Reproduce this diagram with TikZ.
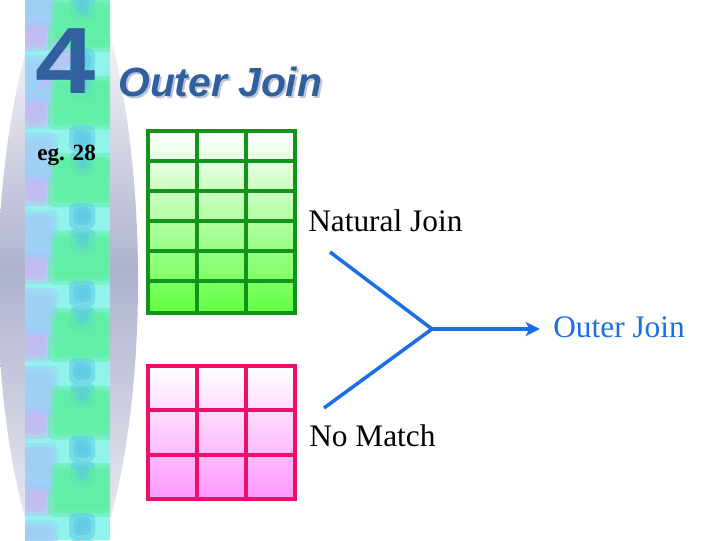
\documentclass[tikz,border=0pt]{standalone}
\usepackage{fontspec}
\setmainfont{Liberation Serif}
\newfontfamily\titlefont{Liberation Sans}
\usetikzlibrary{arrows.meta}

\definecolor{stripcyan}{HTML}{90F4EC}
\definecolor{stripblue}{HTML}{A2CCF8}
\definecolor{striplav}{HTML}{C8B6F2}
\definecolor{stripgreen}{HTML}{5EEEA0}
\definecolor{stripteal}{HTML}{5CC6E6}
\definecolor{lensgray}{HTML}{AEB2CE}
\definecolor{titleblue}{HTML}{30609E}
\definecolor{titleshade}{HTML}{BCC6DA}
\definecolor{gridgreen}{HTML}{12941A}
\definecolor{fillgreen}{HTML}{62FF42}
\definecolor{gridpink}{HTML}{EC1068}
\definecolor{fillpink}{HTML}{FF98FF}
\definecolor{joinblue}{HTML}{1C6EE6}

\begin{document}
\begin{tikzpicture}[x=0.025cm, y=-0.025cm, >={Stealth[length=10pt, width=10pt, inset=2.5pt]}]
  \tikzset{
    bigtext/.style={inner sep=0pt, anchor=base west, font=\fontsize{22.3}{26}\selectfont},
    halo/.style={rounded corners=4pt, opacity=0.5},
    greenline/.style={draw=gridgreen, line width=2.9pt},
    pinkline/.style={draw=gridpink, line width=2.9pt},
    joinline/.style={draw=joinblue, line width=2.5pt}
  }
  \useasboundingbox (0,0) rectangle (720,540);
  % grey lens behind the strip
  \shade[top color=white, bottom color=white!75!lensgray, middle color=lensgray]
    (42,0) .. controls (-15,150) and (-15,400) .. (32,540) -- (104,540)
    .. controls (150,400) and (150,150) .. (100,0) -- cycle;
  % coloured strip, soft blobs drawn in growing layers
  \begin{scope}
    \clip (25,0) rectangle (110,540);
    \fill[stripcyan] (25,0) rectangle (110,540);
    \foreach \k in {-1,...,7} {
      \foreach \g in {7,3,0} {
        \fill[stripblue, halo] ({22-\g},{77.5*\k-15-\g}) rectangle ({51+\g},{77.5*\k+25+\g});
        \fill[striplav, halo] ({25-\g},{77.5*\k+26-\g}) rectangle ({44+\g},{77.5*\k+44+\g});
        \fill[stripgreen, halo] ({55-\g},{77.5*\k+5-\g}) rectangle ({108+\g},{77.5*\k+45+\g});
        \fill[stripteal, halo] ({77-\g},{77.5*\k+3-\g}) rectangle ({88+\g},{77.5*\k+14+\g});
        \fill[stripteal, halo] ({76-\g},{77.5*\k+55-\g}) rectangle ({88+\g},{77.5*\k+67+\g});
      }
    }
  \end{scope}
  % big number and title
  \fill[striplav!70!stripblue, opacity=0.8] (37,92) -- (55,40) -- (80,58) -- cycle;
  \node[anchor=base west, inner sep=0pt, text=titleblue,
    font=\titlefont\bfseries\fontsize{67}{70}\selectfont] (num) at (35,93) {\scalebox{1.15}[1]{4}};
  \node[anchor=base west, inner sep=0pt, text=titleshade,
    font=\titlefont\bfseries\itshape\fontsize{29}{32}\selectfont] (titleshadow) at (120,98) {Outer Join};
  \node[anchor=base west, inner sep=0pt, text=titleblue,
    font=\titlefont\bfseries\itshape\fontsize{29}{32}\selectfont] (title) at (118,96) {Outer Join};
  \node[anchor=base west, inner sep=0pt, font=\bfseries\fontsize{16.5}{19}\selectfont] (eg) at (37,160) {eg. 28};
  % green table
  \shade[top color=white, bottom color=fillgreen] (148,131) rectangle (295,313);
  \foreach \c in {197,246} \draw[greenline] (\c,131) -- (\c,313);
  \foreach \r in {161,191,221,251,281} \draw[greenline] (148,\r) -- (295,\r);
  \draw[greenline] (148,131) rectangle (295,313);
  % pink table
  \shade[top color=white, bottom color=fillpink] (148,366) rectangle (295,499);
  \foreach \c in {197,246} \draw[pinkline] (\c,366) -- (\c,499);
  \foreach \r in {410,455} \draw[pinkline] (148,\r) -- (295,\r);
  \draw[pinkline] (148,366) rectangle (295,499);
  % labels
  \node[bigtext] (natural) at (308,231) {Natural Join};
  \node[bigtext] (nomatch) at (309,446) {No Match};
  \node[bigtext, text=joinblue] (outer) at (553,337) {Outer Join};
  % fork
  \coordinate (njtail) at (330,252);
  \coordinate (nmtail) at (324,408);
  \coordinate (fork) at (432,329);
  \draw[joinline] (njtail) -- (fork) -- (nmtail);
  \draw[joinline, ->, shorten >=0.33cm] (fork) -- (fork -| outer.west);
\end{tikzpicture}
\end{document}
